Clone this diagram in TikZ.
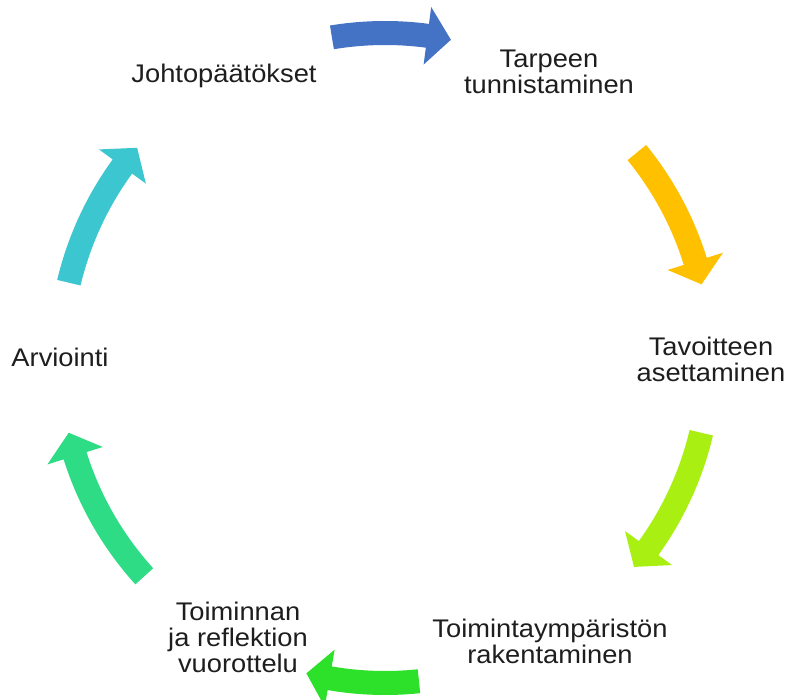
\documentclass[tikz,border=0pt]{standalone}
\usepackage{fontspec}
\setmainfont{Liberation Sans}[FakeStretch=1.07]
\usetikzlibrary{positioning}
\definecolor{cBlue}{HTML}{4472C4}
\definecolor{cYellow}{HTML}{FFC000}
\definecolor{cLime}{HTML}{A9EF12}
\definecolor{cGreen}{HTML}{2DE12B}
\definecolor{cMint}{HTML}{2DDC85}
\definecolor{cCyan}{HTML}{3CC6CF}
\definecolor{cText}{HTML}{1E1E1E}
\newcommand\cycarrow[3]{%
  \pgfmathsetmacro\hb{#3+4.2}%
  \fill[#1] (#2:337pt) arc[start angle=#2, end angle=\hb, radius=337pt]
    -- (\hb:354pt) -- (#3:325pt) -- (\hb:296pt) -- (\hb:313pt)
    arc[start angle=\hb, end angle=#2, radius=313pt] -- cycle;}
\tikzset{
  lbl/.style={text=cText, align=center, inner sep=0pt, anchor=center,
    font=\fontsize{25.5pt}{26pt}\selectfont}
}
\begin{document}
\begin{tikzpicture}[x=1pt,y=1pt]
\useasboundingbox (0,0) rectangle (787,699);
\fill[white] (0,0) rectangle (787,699);
\begin{scope}[shift={(385pt,341pt)}]
  \cycarrow{cBlue}{99.4}{78.3}
  \cycarrow{cYellow}{39.2}{13.1}
  \cycarrow{cLime}{-13.3}{-40}
  \cycarrow{cGreen}{-84}{-104}
  \cycarrow{cMint}{-137.8}{-166.7}
  \cycarrow{cCyan}{166.6}{139.7}
\end{scope}
\node[lbl] (tarve) at (549,627) {Tarpeen\\tunnistaminen};
\node[lbl] (tavoite) at (711,340) {Tavoitteen\\asettaminen};
\node[lbl] (ymparisto) at (550,58) {Toimintaympäristön\\rakentaminen};
\node[lbl] (toiminta) at (238,62) {Toiminnan\\ja reflektion\\vuorottelu};
\node[lbl] (arvio) at (60,342) {Arviointi};
\node[lbl] (johto) at (224,623) {Johtopäätökset};
\end{tikzpicture}
\end{document}
